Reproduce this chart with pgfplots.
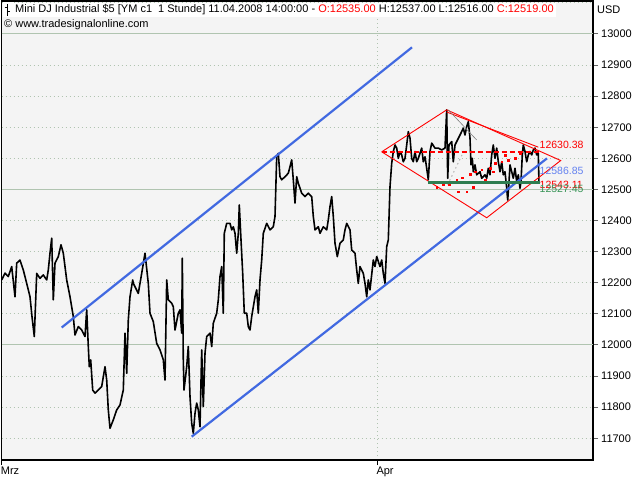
\documentclass[border=0pt]{standalone}
\usepackage{pgfplots}
\pgfplotsset{compat=1.18}
\usepackage{fontspec}
\setmainfont{Liberation Sans}
\definecolor{bgc}{RGB}{244,244,244}
\definecolor{gridc}{RGB}{176,196,176}
\definecolor{chan}{RGB}{65,105,225}
\definecolor{grn}{RGB}{46,125,80}
\definecolor{lblue}{RGB}{100,130,240}
\definecolor{lgrn}{RGB}{60,150,90}
\definecolor{tickc}{RGB}{100,100,100}
\definecolor{hred}{RGB}{255,0,0}
\begin{document}
\begin{tikzpicture}[font=\fontsize{11}{13}\selectfont]
\useasboundingbox (0,0) rectangle (640pt,480pt);
\fill[white] (0,0) rectangle (640pt,480pt);
\begin{axis}[
  at={(1.7pt,20pt)}, anchor=south west,
  scale only axis, width=591.3pt, height=459pt,
  xmin=1.7, xmax=593, ymin=11630, ymax=13106,
  axis background/.style={fill=bgc},
  axis line style={black, line width=1.2pt},
  xtick={1.7,377.3}, xticklabels={Mrz,Apr},
  xtick pos=bottom, ytick pos=right, yticklabel pos=right,
  ytick={11700,11800,11900,12000,12100,12200,12300,12400,12500,12600,12700,12800,12900,13000},
  yticklabels={11700,11800,11900,12000,12100,12200,12300,12400,12500,12600,12700,12800,12900,13000},
  tick align=outside, major tick length=5pt,
  xtick style={black, line width=1pt},
  ytick style={tickc, line width=1pt},
  xticklabel style={anchor=north west, inner sep=0pt, xshift=-1pt, yshift=-2pt},
  yticklabel style={anchor=west, inner sep=0pt, xshift=3pt},
  xmajorgrids, ymajorgrids,
  grid style={gridc, line width=1pt, dash pattern=on 1pt off 3pt},
]
% top dotted grid line (13100) and solid reference lines
\addplot[gridc, line width=1pt, dash pattern=on 1pt off 3pt] coordinates {(1.7,13100) (593,13100)};
\addplot[gridc, line width=1pt] coordinates {(1.7,12000) (593,12000)};
\addplot[gridc, line width=1pt] coordinates {(1.7,12500) (593,12500)};
\addplot[gridc, line width=1pt] coordinates {(1.7,13000) (593,13000)};
% price series (hourly)
\addplot[black, line width=1.6pt, line join=round] coordinates {
(1.7,12209) (5,12231) (8.3,12220) (11.7,12252) (15,12155) (16.7,12263) (20,12273)
(23.3,12241) (26.7,12198) (30,12155) (32,12091) (34.3,12027) (36.7,12230) (40,12214)
(43.3,12225) (46.7,12209) (48.3,12241) (50,12295) (51.7,12343) (53.3,12145) (55,12263)
(58.3,12284) (61,12322) (63.3,12295) (66.7,12209) (70,12155) (73.3,12091) (75,12032)
(78.3,12059) (81.7,12048) (85,12027) (86.7,12113) (88.3,11995) (89.3,11930) (90.7,11952)
(92.7,11855) (95,11845) (98.3,11855) (101.7,11866) (105,11930) (106.7,11887) (108.3,11791)
(110,11732) (113.3,11759) (116.7,11791) (120,11807) (123.3,11855) (125,12038) (126.7,11909)
(128.3,12080) (130,12155) (132.7,12209) (133.3,12198) (138.3,12166) (141.7,12230) (145,12295)
(148.3,12198) (150,12102) (153.3,12075) (156.7,12005) (160,11984) (163.3,11952) (165,11887)
(166.7,12209) (168.3,12145) (171.7,12134) (173.3,12123) (175,12048) (178.3,12102) (180,12113)
(181.7,12038) (182.3,12279) (183.3,11952) (184,11855) (186.7,11930) (188.3,11995) (190,11834)
(191.7,11748) (193.3,11716) (195,11780) (196.7,11813) (198.3,11791) (200,11737) (201.7,11984)
(203.3,11802) (205,11973) (206.7,12027) (210,12038) (211.7,11995) (213.3,12070) (216.7,12102)
(218.3,12145) (220,12220) (221.7,12252) (223.3,12102) (224.3,12359) (226.7,12391) (230,12391)
(231.7,12370) (233.3,12380) (235,12359) (236.7,12295) (238.3,12359) (239.3,12450) (241,12338)
(242.7,12230) (244.3,12102) (246.7,12102) (248.3,12059) (250,12048) (251.7,12091) (255,12155)
(256.7,12177) (258.3,12102) (260,12209) (261.7,12273) (263.3,12359) (266.7,12391) (270,12370)
(273.3,12380) (275,12413) (276.7,12605) (278.3,12616) (280,12541) (281.7,12531) (285,12541)
(288.3,12552) (291.7,12595) (293.3,12531) (295,12456) (296.7,12541) (298.3,12520) (301.7,12488)
(305,12477) (308.3,12488) (311.7,12477) (313.3,12413) (315,12370) (318.3,12380) (320,12359)
(323.3,12380) (326.7,12370) (328.3,12402) (330,12445) (331.7,12477) (333.3,12413) (335,12327)
(337.3,12284) (340,12327) (343.3,12338) (345,12370) (346.7,12391) (350,12370) (351.7,12305)
(355,12295) (356.7,12241) (358.3,12198) (360,12252) (363.3,12230) (365,12198) (366.7,12155)
(368.3,12209) (370,12177) (373.3,12273) (375,12252) (376.7,12284) (380,12252) (381.7,12273)
(383.3,12230) (385,12198) (386.7,12316) (388.3,12338) (390,12509) (391.7,12584) (393.3,12622)
(395,12643) (396.7,12633) (398.3,12600) (400,12622) (401.7,12611) (403.3,12589) (405,12600)
(406.7,12643) (408.3,12686) (410,12665) (411.7,12600) (413.3,12589) (415,12622) (416.7,12589)
(418.3,12600) (421.7,12633) (423.3,12589) (425,12605) (426.7,12568) (428.3,12531) (430,12622)
(431.7,12649) (435,12633) (438.3,12633) (441.7,12627) (445,12633) (446.7,12756) (447.7,12536)
(449,12643) (451.7,12654) (453.3,12589) (455,12643) (456.7,12654) (460,12675) (463.3,12697)
(465,12675) (466.7,12702) (468.3,12718) (470,12665) (471,12579) (472.3,12600) (473.3,12557)
(475,12579) (476.7,12547) (480,12557) (481.7,12536) (485,12547) (486.7,12536) (488.3,12568)
(490,12547) (491.7,12611) (493.3,12643) (495,12600) (496.7,12633) (498.3,12589) (500,12557)
(501.7,12589) (503.3,12547) (505,12557) (506.7,12504) (507.7,12466) (509,12525) (510,12579)
(511.7,12557) (513.3,12536) (515,12568) (516.7,12525) (518.3,12547) (520,12504) (521,12525)
(522.3,12611) (523.3,12643) (525,12622) (526.7,12589) (528.3,12611) (530,12622) (531.7,12611)
(533.3,12627) (535,12633) (536.7,12611) (538.3,12616) (539,12519)
};
% trend channel
\addplot[chan, line width=2.2pt] coordinates {(61.7,12056) (412,12957)};
\addplot[chan, line width=2.2pt] coordinates {(191.7,11705) (547,12600)};
% diamond pattern
\addplot[hred, line width=0.9pt] coordinates {(381.7,12621) (446.7,12756) (560.7,12593) (486.7,12409) (381.7,12621)};
\addplot[hred, line width=0.9pt] coordinates {(446.7,12749) (538.3,12636)};
\addplot[gray, line width=0.6pt] coordinates {(448.3,12756) (476.7,12659)};
\addplot[gray!60, line width=1pt, dash pattern=on 1.5pt off 3pt] coordinates {(462,12611) (447,12511)};
\addplot[hred, line width=1.5pt, dash pattern=on 5pt off 3pt] coordinates {(381.7,12621) (540,12621)};
\addplot[only marks, mark=square*, mark size=0.8pt, hred] coordinates {
(436.7,12507) (443.3,12515) (449,12515) (456.7,12531) (458.3,12493) (462.3,12538)
(466.7,12493) (470,12549) (473.3,12507) (475,12557) (481.7,12563) (485,12531)
(490,12568) (493.3,12557) (495,12584) (501.7,12589) (505,12611) (508.3,12595)
(512,12621) (515,12600) (520,12616)};
\addplot[grn, line width=2.6pt] coordinates {(428,12523) (540,12523)};
\node[anchor=west, inner sep=0pt, text=hred, font=\fontsize{10.5}{12}\selectfont] at (axis cs:539.5,12643) {12630.38};
\node[anchor=west, inner sep=0pt, text=lblue, font=\fontsize{10.5}{12}\selectfont] at (axis cs:539.5,12559) {12586.85};
\node[anchor=west, inner sep=0pt, text=hred, font=\fontsize{10.5}{12}\selectfont] at (axis cs:539.5,12516) {12543.11};
\node[anchor=west, inner sep=0pt, text=lgrn, font=\fontsize{10.5}{12}\selectfont] at (axis cs:539.5,12501) {12527.45};
\end{axis}
% header
\node[anchor=west, fill=white, inner xsep=2pt, inner ysep=1.5pt] at (13pt,470pt)
  {Mini DJ Industrial \$5 [YM c1\ \ 1 Stunde] 11.04.2008 14:00:00 - \textcolor{hred}{O:12535.00} H:12537.00 L:12516.00 \textcolor{hred}{C:12519.00}};
\fill[white] (3pt,463pt) rectangle (14pt,478pt);
\draw[black, line width=1pt] (7pt,464pt) -- (7pt,476pt) (4.5pt,472pt) -- (7pt,472pt) (7pt,468pt) -- (9.5pt,468pt);
\node[anchor=west, inner xsep=1pt, inner ysep=1pt] at (3pt,455pt) {© www.tradesignalonline.com};
\node[anchor=west, inner sep=0pt] at (597pt,470pt) {USD};
\end{tikzpicture}
\end{document}
